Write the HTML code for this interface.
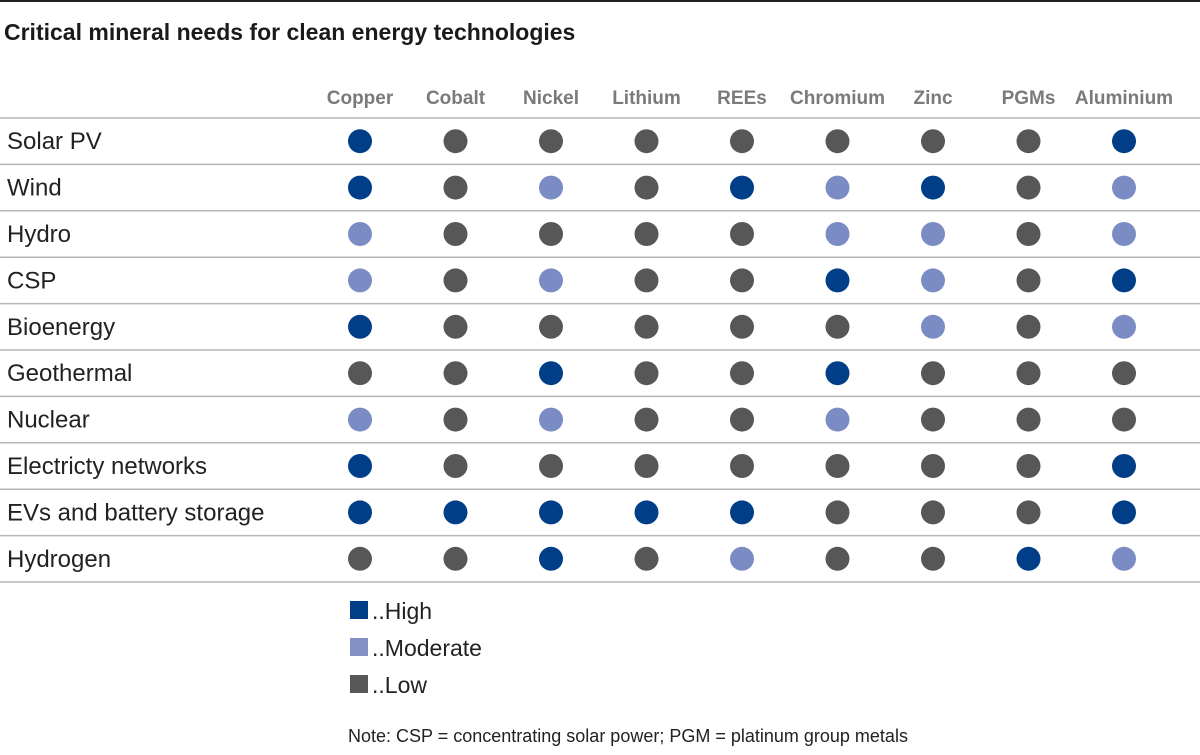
<!DOCTYPE html>
<html><head><meta charset="utf-8"><style>
body{margin:0;background:#fff;font-family:"Liberation Sans",sans-serif;}
svg text{font-family:"Liberation Sans",sans-serif;}
</style></head><body>
<svg width="1200" height="750" xmlns="http://www.w3.org/2000/svg" id="chart">
<line x1="0" y1="1" x2="1200" y2="1" stroke="#222" stroke-width="2"/>
<text x="4" y="40" font-size="23" font-weight="bold" fill="#1a1a1a">Critical mineral needs for clean energy technologies</text>
<g id="grid"></g>
<g id="legend">
<rect x="350" y="601" width="18" height="18" fill="#003f87"/>
<text x="372" y="619" font-size="23" fill="#222">..High</text>
<rect x="350" y="638" width="18" height="18" fill="#8491c4"/>
<text x="372" y="656" font-size="23" fill="#222">..Moderate</text>
<rect x="350" y="675" width="18" height="18" fill="#575757"/>
<text x="372" y="693" font-size="23" fill="#222">..Low</text>
</g>
<text x="348" y="742" font-size="18" fill="#222">Note: CSP = concentrating solar power; PGM = platinum group metals</text>
</svg>
<script>
const minerals=["Copper","Cobalt","Nickel","Lithium","REEs","Chromium","Zinc","PGMs","Aluminium"];
const technologies=["Solar PV","Wind","Hydro","CSP","Bioenergy","Geothermal","Nuclear","Electricty networks","EVs and battery storage","Hydrogen"];
// 2 = High, 1 = Moderate, 0 = Low
const rowSolar=[2,0,0,0,0,0,0,0,2];
const rowWind=[2,0,1,0,2,1,2,0,1];
const rowHydro=[1,0,0,0,0,1,1,0,1];
const rowCSP=[1,0,1,0,0,2,1,0,2];
const rowBio=[2,0,0,0,0,0,1,0,1];
const rowGeo=[0,0,2,0,0,2,0,0,0];
const rowNuclear=[1,0,1,0,0,1,0,0,0];
const rowNetworks=[2,0,0,0,0,0,0,0,2];
const rowEV=[2,2,2,2,2,0,0,0,2];
const rowHydrogen=[0,0,2,0,1,0,0,2,1];
const levels=[rowSolar,rowWind,rowHydro,rowCSP,rowBio,rowGeo,rowNuclear,rowNetworks,rowEV,rowHydrogen];
const colors=["#575757","#7b8cc4","#003f87"];
const levelNames=["low","moderate","high"];
const NS="http://www.w3.org/2000/svg";
const g=document.getElementById("grid");
const xCol=i=>360+i*95.5;
const yTop=118, rowH=46.4;
const yRow=j=>yTop+rowH*(j+0.5);
function mk(tag,attrs){const e=document.createElementNS(NS,tag);for(const k in attrs)e.setAttribute(k,attrs[k]);g.appendChild(e);return e;}
minerals.forEach((m,i)=>{
  const t=mk("text",{x:xCol(i),y:104,"font-size":19,"font-weight":"bold",fill:"#7a7a7a","text-anchor":"middle"});
  t.textContent=m;
  
  
});
for(let j=0;j<=technologies.length;j++){
  const l=mk("line",{x1:0,x2:1200,y1:yTop+rowH*j,y2:yTop+rowH*j,stroke:"#b5b5b5","stroke-width":1.5});
  
  
}
technologies.forEach((tname,j)=>{
  const t=mk("text",{x:7,y:yRow(j)+8,"font-size":24,fill:"#222"});
  t.textContent=tname;
  
  
  levels[j].forEach((v,i)=>{
    const c=mk("circle",{cx:xCol(i),cy:yRow(j),r:12,fill:colors[v]});
    
    
  });
});
</script>
</body></html>
